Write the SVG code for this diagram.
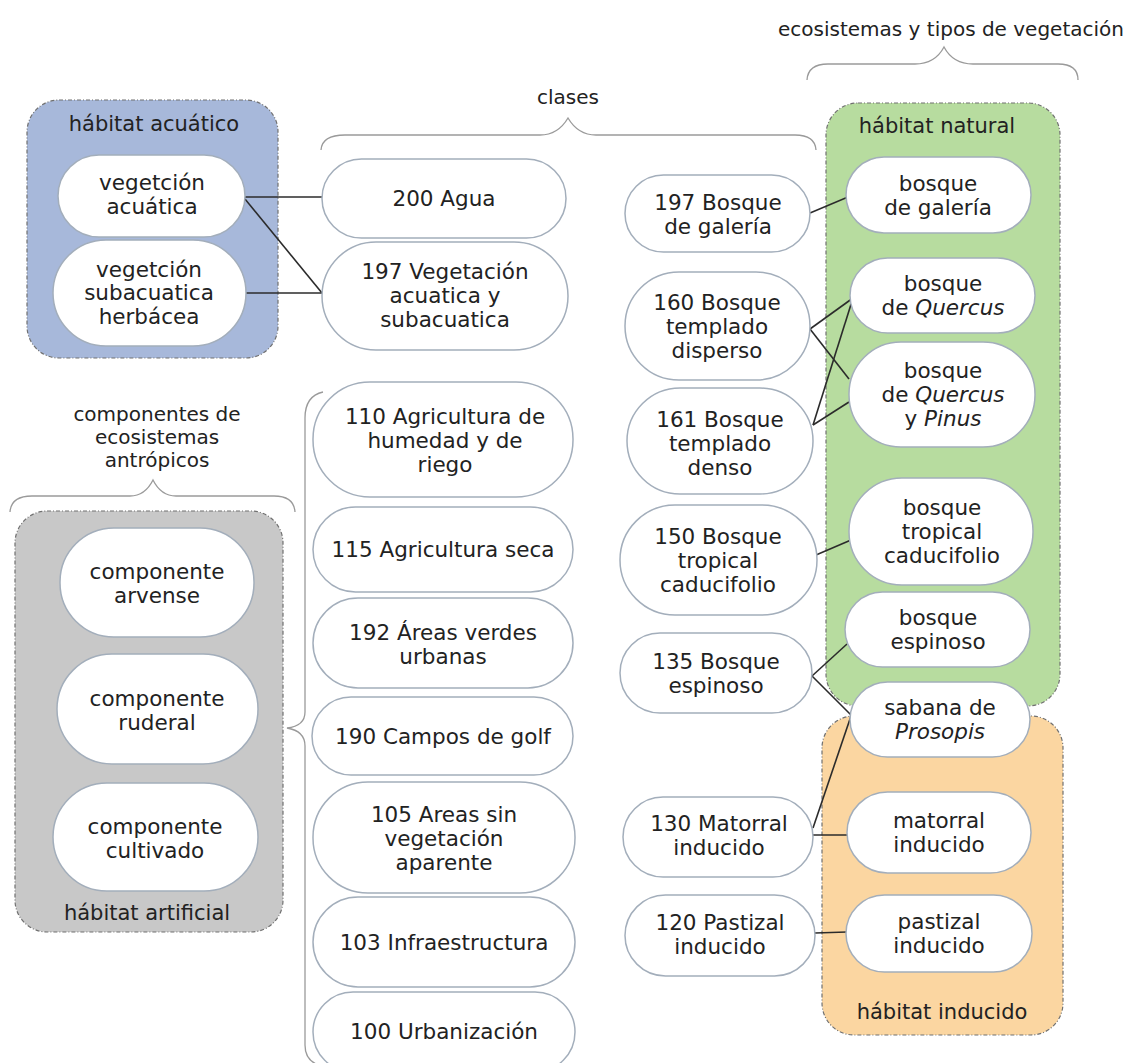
<svg xmlns="http://www.w3.org/2000/svg" width="1126" height="1063" viewBox="0 0 1126 1063">
<style>
text{font-family:"DejaVu Sans",Verdana,sans-serif;fill:#222;text-anchor:middle}
.n{font-size:21.5px}
.h{font-size:21px}
.t{font-size:20px}
.node{fill:#fff;stroke:#a3aebb;stroke-width:1.5}
.cont{stroke:#707070;stroke-width:1.2;stroke-dasharray:4 2 1 2}
.brace{fill:none;stroke:#9a9a9a;stroke-width:1.3}
.conn{fill:none;stroke:#2b2b2b;stroke-width:1.6}
.it{font-style:italic}
</style>
<rect width="1126" height="1063" fill="#fff"/>

<g id="braces">
<path class="brace" d="M807 80 Q808 64 828 64 L915 64 Q935 64 944 47 Q953 64 973 64 L1058 64 Q1078 64 1078 80"/>
<path class="brace" d="M321 150 Q322 135 345 135 L540 135 Q558 135 568 118 Q578 135 596 135 L795 135 Q815 135 816 150"/>
<path class="brace" d="M10 512 Q11 496 32 496 L130 496 Q145 496 153 480 Q161 496 176 496 L274 496 Q294 496 295 512"/>
<path class="brace" d="M323 392 Q305 396 305 418 L305 712 Q305 726 287 728 Q305 731 305 746 L305 1045 Q305 1062 322 1066"/>
</g>
<g id="headings">
<text class="t" x="951" y="36">ecosistemas y tipos de vegetación</text>
<text class="t" x="568" y="104">clases</text>
<text class="t" x="157" y="421">componentes de</text>
<text class="t" x="157" y="444">ecosistemas</text>
<text class="t" x="157" y="467">antrópicos</text>
</g>

<g id="habitat-acuatico">
<rect class="cont" x="27" y="100" width="251" height="258" rx="32" fill="#a7b8da"/>
<text class="h" x="154" y="131">hábitat acuático</text>
</g>
<g id="habitat-artificial">
<rect class="cont" x="15" y="511" width="268" height="421" rx="32" fill="#c8c8c8"/>
<text class="h" x="147" y="920">hábitat artificial</text>
</g>
<g id="habitat-natural">
<rect class="cont" x="826" y="103" width="234" height="603" rx="32" fill="#b7dc9f"/>
<text class="h" x="937" y="133">hábitat natural</text>
</g>
<g id="habitat-inducido">
<rect class="cont" x="822" y="716" width="241" height="319" rx="32" fill="#fbd6a1"/>
<text class="h" x="942" y="1019">hábitat inducido</text>
</g>

<g id="connectors">
<path class="conn" d="M245 197 L322 197"/>
<path class="conn" d="M245 199 L322 293"/>
<path class="conn" d="M246 293 L322 293"/>
<path class="conn" d="M810 213 L848 197"/>
<path class="conn" d="M810 329 L853 298"/>
<path class="conn" d="M810 329 L849 379"/>
<path class="conn" d="M813 425 L853 298"/>
<path class="conn" d="M813 425 L849 402"/>
<path class="conn" d="M816 555 L851 540"/>
<path class="conn" d="M812 676 L847 644"/>
<path class="conn" d="M812 676 L852 716"/>
<path class="conn" d="M813 828 L851 716"/>
<path class="conn" d="M813 835 L847 835"/>
<path class="conn" d="M815 933 L847 932"/>
</g>

<g id="n-veg-acuatica"><rect class="node" x="58" y="155" width="187" height="82" rx="41"/>
<text class="n" x="152" y="190">vegetción</text><text class="n" x="152" y="214">acuática</text></g>
<g id="n-veg-subacuatica"><rect class="node" x="53" y="240" width="193" height="106" rx="53"/>
<text class="n" x="149" y="277">vegetción</text><text class="n" x="149" y="300">subacuatica</text><text class="n" x="149" y="324">herbácea</text></g>

<g id="n-arvense"><rect class="node" x="60" y="528" width="194" height="109" rx="54"/>
<text class="n" x="157" y="579">componente</text><text class="n" x="157" y="603">arvense</text></g>
<g id="n-ruderal"><rect class="node" x="57" y="654" width="201" height="110" rx="55"/>
<text class="n" x="157" y="706">componente</text><text class="n" x="157" y="730">ruderal</text></g>
<g id="n-cultivado"><rect class="node" x="53" y="783" width="205" height="108" rx="54"/>
<text class="n" x="155" y="834">componente</text><text class="n" x="155" y="858">cultivado</text></g>

<g id="c200"><rect class="node" x="322" y="159" width="244" height="79" rx="39.5"/>
<text class="n" x="444" y="206">200 Agua</text></g>
<g id="c197v"><rect class="node" x="322" y="242" width="246" height="108" rx="54"/>
<text class="n" x="445" y="279">197 Vegetación</text><text class="n" x="445" y="303">acuatica y</text><text class="n" x="445" y="327">subacuatica</text></g>
<g id="c110"><rect class="node" x="313" y="382" width="260" height="115" rx="57"/>
<text class="n" x="445" y="424">110 Agricultura de</text><text class="n" x="445" y="448">humedad y de</text><text class="n" x="445" y="472">riego</text></g>
<g id="c115"><rect class="node" x="313" y="507" width="260" height="85" rx="42.5"/>
<text class="n" x="443" y="557">115 Agricultura seca</text></g>
<g id="c192"><rect class="node" x="313" y="598" width="260" height="90" rx="45"/>
<text class="n" x="443" y="640">192 Áreas verdes</text><text class="n" x="443" y="664">urbanas</text></g>
<g id="c190"><rect class="node" x="312" y="697" width="261" height="78" rx="39"/>
<text class="n" x="443" y="744">190 Campos de golf</text></g>
<g id="c105"><rect class="node" x="313" y="782" width="262" height="111" rx="55"/>
<text class="n" x="444" y="822">105 Areas sin</text><text class="n" x="444" y="846">vegetación</text><text class="n" x="444" y="870">aparente</text></g>
<g id="c103"><rect class="node" x="313" y="897" width="262" height="90" rx="45"/>
<text class="n" x="444" y="950">103 Infraestructura</text></g>
<g id="c100"><rect class="node" x="313" y="992" width="262" height="80" rx="40"/>
<text class="n" x="444" y="1039">100 Urbanización</text></g>

<g id="c197g"><rect class="node" x="625" y="175" width="185" height="77" rx="38.5"/>
<text class="n" x="718" y="210">197 Bosque</text><text class="n" x="718" y="234">de galería</text></g>
<g id="c160"><rect class="node" x="625" y="272" width="185" height="108" rx="54"/>
<text class="n" x="717" y="310">160 Bosque</text><text class="n" x="717" y="334">templado</text><text class="n" x="717" y="358">disperso</text></g>
<g id="c161"><rect class="node" x="627" y="388" width="186" height="106" rx="53"/>
<text class="n" x="720" y="427">161 Bosque</text><text class="n" x="720" y="451">templado</text><text class="n" x="720" y="475">denso</text></g>
<g id="c150"><rect class="node" x="620" y="505" width="197" height="110" rx="55"/>
<text class="n" x="718" y="544">150 Bosque</text><text class="n" x="718" y="568">tropical</text><text class="n" x="718" y="592">caducifolio</text></g>
<g id="c135"><rect class="node" x="620" y="633" width="192" height="80" rx="40"/>
<text class="n" x="716" y="669">135 Bosque</text><text class="n" x="716" y="693">espinoso</text></g>
<g id="c130"><rect class="node" x="623" y="797" width="190" height="80" rx="40"/>
<text class="n" x="719" y="831">130 Matorral</text><text class="n" x="719" y="855">inducido</text></g>
<g id="c120"><rect class="node" x="625" y="895" width="190" height="81" rx="40.5"/>
<text class="n" x="720" y="930">120 Pastizal</text><text class="n" x="720" y="954">inducido</text></g>

<g id="e-galeria"><rect class="node" x="846" y="157" width="185" height="76" rx="38"/>
<text class="n" x="938" y="191">bosque</text><text class="n" x="938" y="215">de galería</text></g>
<g id="e-quercus"><rect class="node" x="850" y="258" width="185" height="75" rx="37.5"/>
<text class="n" x="943" y="291">bosque</text><text class="n" x="943" y="315">de <tspan class="it">Quercus</tspan></text></g>
<g id="e-quercus-pinus"><rect class="node" x="849" y="342" width="186" height="105" rx="52"/>
<text class="n" x="943" y="378">bosque</text><text class="n" x="943" y="402">de <tspan class="it">Quercus</tspan></text><text class="n" x="943" y="426">y <tspan class="it">Pinus</tspan></text></g>
<g id="e-tropical"><rect class="node" x="849" y="478" width="184" height="107" rx="53"/>
<text class="n" x="942" y="515">bosque</text><text class="n" x="942" y="539">tropical</text><text class="n" x="942" y="563">caducifolio</text></g>
<g id="e-espinoso"><rect class="node" x="845" y="592" width="185" height="75" rx="37.5"/>
<text class="n" x="938" y="625">bosque</text><text class="n" x="938" y="649">espinoso</text></g>
<g id="e-sabana"><rect class="node" x="850" y="682" width="180" height="75" rx="37.5"/>
<text class="n" x="940" y="715">sabana de</text><text class="n" x="940" y="739"><tspan class="it">Prosopis</tspan></text></g>
<g id="e-matorral"><rect class="node" x="847" y="792" width="184" height="81" rx="40.5"/>
<text class="n" x="939" y="828">matorral</text><text class="n" x="939" y="852">inducido</text></g>
<g id="e-pastizal"><rect class="node" x="846" y="895" width="186" height="77" rx="38.5"/>
<text class="n" x="939" y="929">pastizal</text><text class="n" x="939" y="953">inducido</text></g>
</svg>
